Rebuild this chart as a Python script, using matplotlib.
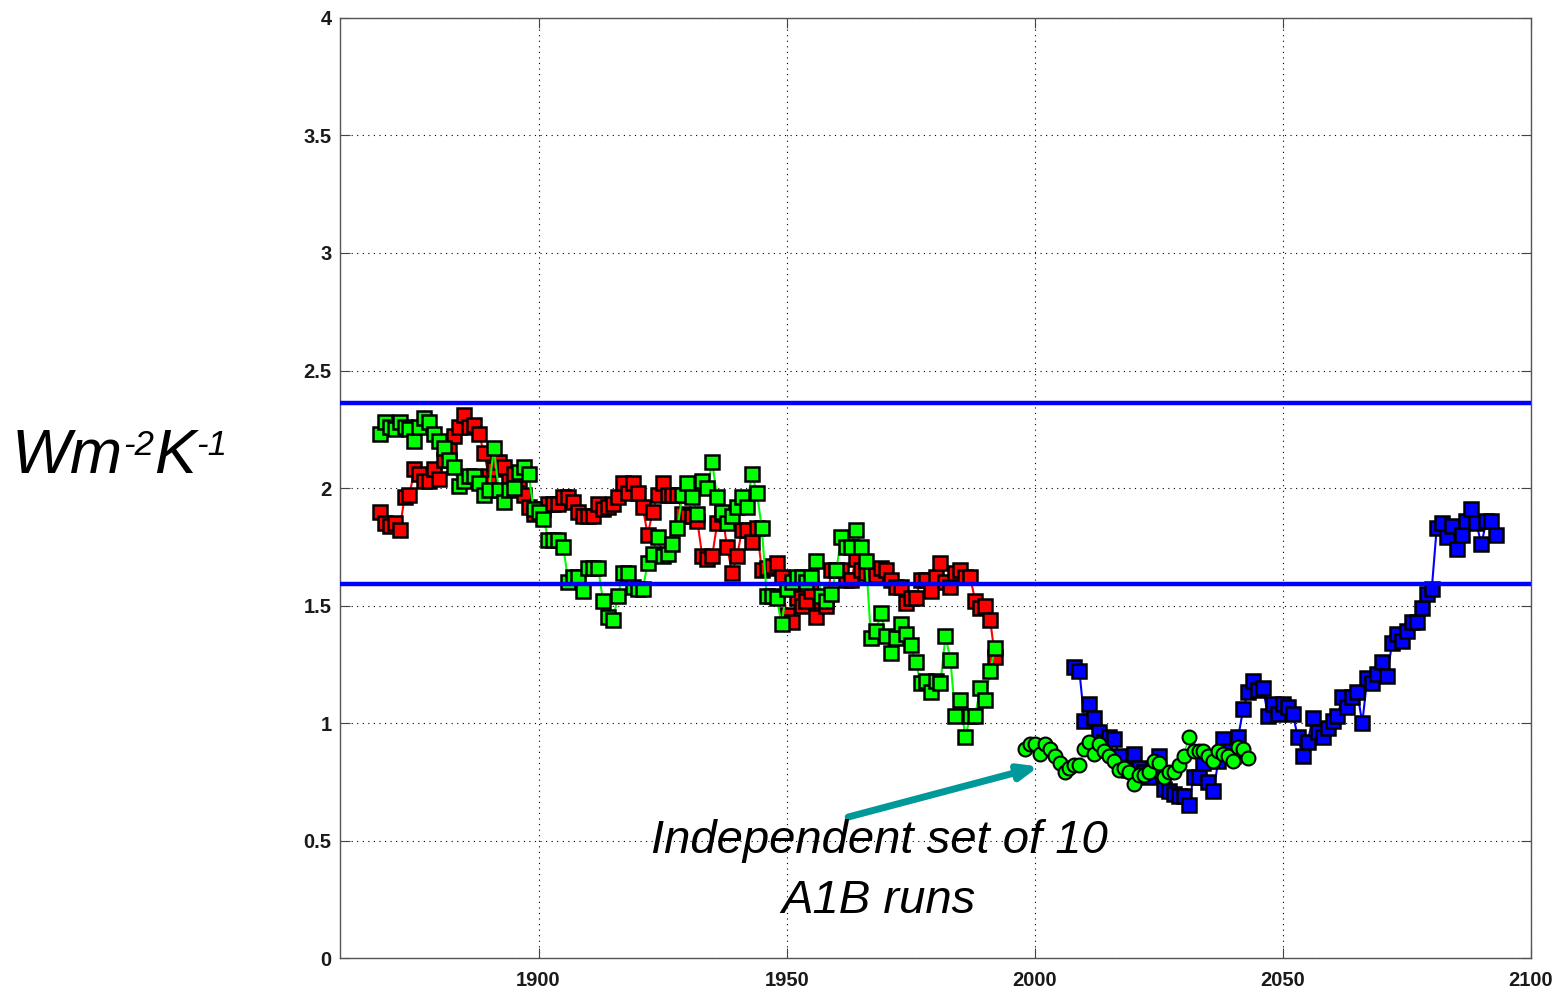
import matplotlib
matplotlib.use('Agg')
import matplotlib.pyplot as plt
from matplotlib.ticker import FormatStrFormatter

plt.rcParams['font.family'] = ['Liberation Sans', 'DejaVu Sans']

# historical runs, one value per year 1868-1992
hist_years = list(range(1868, 1993))
red_vals = [1.90, 1.85, 1.84, 1.85, 1.82, 1.96, 1.97, 2.08, 2.06, 2.03,
            2.03, 2.08, 2.04, 2.12, 2.16, 2.22, 2.26, 2.31, 2.26, 2.27,
            2.23, 2.15, 2.05, 2.08, 2.11, 2.09, 2.03, 2.06, 2.04, 1.97,
            1.92, 1.89, 1.90, 1.91, 1.93, 1.93, 1.93, 1.96, 1.96, 1.94,
            1.90, 1.88, 1.88, 1.88, 1.93, 1.91, 1.92, 1.93, 1.96, 2.02,
            1.98, 2.02, 1.98, 1.92, 1.80, 1.90, 1.97, 2.02, 1.97, 1.97,
            1.97, 1.89, 1.88, 1.88, 1.86, 1.71, 1.70, 1.71, 1.85, 1.89,
            1.75, 1.64, 1.71, 1.82, 1.82, 1.77, 1.83, 1.65, 1.66, 1.67,
            1.68, 1.62, 1.46, 1.43, 1.53, 1.50, 1.52, 1.56, 1.45, 1.52,
            1.50, 1.65, 1.65, 1.65, 1.61, 1.61, 1.70, 1.65, 1.64, 1.63,
            1.63, 1.66, 1.65, 1.61, 1.58, 1.58, 1.51, 1.53, 1.53, 1.61,
            1.61, 1.56, 1.62, 1.68, 1.60, 1.58, 1.64, 1.65, 1.62, 1.62,
            1.52, 1.49, 1.50, 1.44, 1.28]
green_vals = [2.23, 2.28, 2.26, 2.25, 2.28, 2.26, 2.25, 2.20, 2.26, 2.30,
              2.28, 2.23, 2.20, 2.17, 2.12, 2.09, 2.01, 2.03, 2.05, 2.05,
              2.02, 1.97, 1.99, 2.17, 1.99, 1.94, 1.99, 2.00, 2.07, 2.09,
              2.06, 1.91, 1.90, 1.87, 1.78, 1.78, 1.78, 1.75, 1.60, 1.62,
              1.62, 1.56, 1.66, 1.66, 1.66, 1.52, 1.45, 1.44, 1.54, 1.64,
              1.64, 1.58, 1.57, 1.57, 1.68, 1.72, 1.79, 1.71, 1.72, 1.76,
              1.83, 1.97, 2.02, 1.96, 1.89, 2.03, 2.00, 2.11, 1.96, 1.90,
              1.85, 1.88, 1.92, 1.96, 1.92, 2.06, 1.98, 1.83, 1.54, 1.54,
              1.53, 1.42, 1.57, 1.60, 1.62, 1.62, 1.60, 1.62, 1.69, 1.54,
              1.52, 1.55, 1.65, 1.79, 1.75, 1.75, 1.82, 1.75, 1.69, 1.36,
              1.39, 1.47, 1.37, 1.30, 1.36, 1.42, 1.38, 1.33, 1.26, 1.17,
              1.18, 1.13, 1.18, 1.17, 1.37, 1.27, 1.03, 1.10, 0.94, 1.03,
              1.03, 1.15, 1.10, 1.22, 1.32]

# independent A1B set, 1998-2043
ind_years = list(range(1998, 2044))
ind_vals = [0.89, 0.91, 0.91, 0.87, 0.91, 0.89, 0.86, 0.83, 0.79, 0.81,
            0.82, 0.82, 0.89, 0.92, 0.87, 0.91, 0.88, 0.86, 0.84, 0.80,
            0.81, 0.79, 0.74, 0.78, 0.78, 0.79, 0.84, 0.83, 0.77, 0.79,
            0.79, 0.82, 0.86, 0.94, 0.88, 0.88, 0.88, 0.86, 0.84, 0.88,
            0.87, 0.86, 0.84, 0.90, 0.89, 0.85]

# A1B projection, 2008-2093
a1b_years = list(range(2008, 2094))
a1b_vals = [1.24, 1.22, 1.01, 1.08, 1.02, 0.96, 0.92, 0.94, 0.93, 0.86,
            0.81, 0.80, 0.87, 0.81, 0.79, 0.77, 0.80, 0.86, 0.72, 0.71,
            0.70, 0.69, 0.69, 0.65, 0.77, 0.77, 0.83, 0.75, 0.71, 0.84,
            0.93, 0.88, 0.86, 0.94, 1.06, 1.13, 1.18, 1.14, 1.15, 1.03,
            1.08, 1.04, 1.08, 1.07, 1.04, 0.94, 0.86, 0.92, 1.02, 0.96,
            0.94, 0.98, 1.01, 1.03, 1.11, 1.07, 1.11, 1.13, 1.00, 1.19,
            1.17, 1.21, 1.26, 1.20, 1.34, 1.38, 1.35, 1.39, 1.43, 1.43,
            1.49, 1.55, 1.57, 1.83, 1.85, 1.79, 1.84, 1.74, 1.80, 1.86,
            1.91, 1.85, 1.76, 1.86, 1.86, 1.80]

band = [1.59, 2.36]

W, H = 1554, 993
fig = plt.figure(figsize=(W / 100, H / 100), dpi=100)
ax = fig.add_axes([0.2188, 0.0352, 0.7664, 0.9467])

ax.plot(hist_years, red_vals, '-s', color='#ff0000', lw=1.5, ms=9.5,
        mfc='#ff0000', mec='black', mew=1.8, zorder=3)
ax.plot(hist_years, green_vals, '-s', color='#00ff00', lw=1.5, ms=9.5,
        mfc='#00ff00', mec='black', mew=1.8, zorder=4)
ax.plot(ind_years, ind_vals, '-o', color='#00ff00', lw=1.0, ms=10,
        mfc='#00ff00', mec='black', mew=1.5, zorder=4)
ax.plot(a1b_years, a1b_vals, '-s', color='#0000ff', lw=1.5, ms=9.5,
        mfc='#0000ff', mec='black', mew=1.8, zorder=3)
for b in band:
    ax.axhline(b, color='#0000ff', lw=3.2, zorder=6)

ax.set_xlim(1860, 2100)
ax.set_ylim(0, 4)
ax.set_xticks([1900, 1950, 2000, 2050, 2100])
ax.set_yticks([0, 0.5, 1, 1.5, 2, 2.5, 3, 3.5, 4])
ax.yaxis.set_major_formatter(FormatStrFormatter('%g'))
ax.grid(True, color='black', linestyle=(0, (1, 4)), lw=0.8)
ax.tick_params(direction='in', top=True, right=True, length=7,
               labelsize=14.5, color='#444444', labelcolor='#1a1a1a')
ax.tick_params(axis='x', pad=9)
ax.tick_params(axis='y', pad=6)
for lab in ax.get_xticklabels() + ax.get_yticklabels():
    lab.set_fontweight('bold')
for s in ax.spines.values():
    s.set_color('#555555')
    s.set_linewidth(1.0)

ax.annotate('', xy=(2000.8, 0.815), xytext=(1962.4, 0.60),
            arrowprops=dict(arrowstyle='-|>,head_length=1.1,head_width=0.45',
                            color='#009999', lw=5, shrinkA=0, shrinkB=0),
            zorder=7)
ax.text(1968.6, 0.37, 'Independent set of 10\nA1B runs', ha='center',
        va='center', style='italic', fontsize=34, linespacing=1.45,
        zorder=8)

# unit label built from pieces so the superscripts sit like the original
pieces = [('Wm', 45, 473), ('-2', 25, 455), ('K', 45, 473), ('-1', 25, 455)]
x_px = 12
renderer = fig.canvas.get_renderer()
for s, fs, base in pieces:
    t = fig.text(x_px / W, 1 - base / H, s, fontsize=fs, style='italic',
                 ha='left', va='baseline')
    x_px += t.get_window_extent(renderer).width

fig.savefig('out.png', dpi=100)
